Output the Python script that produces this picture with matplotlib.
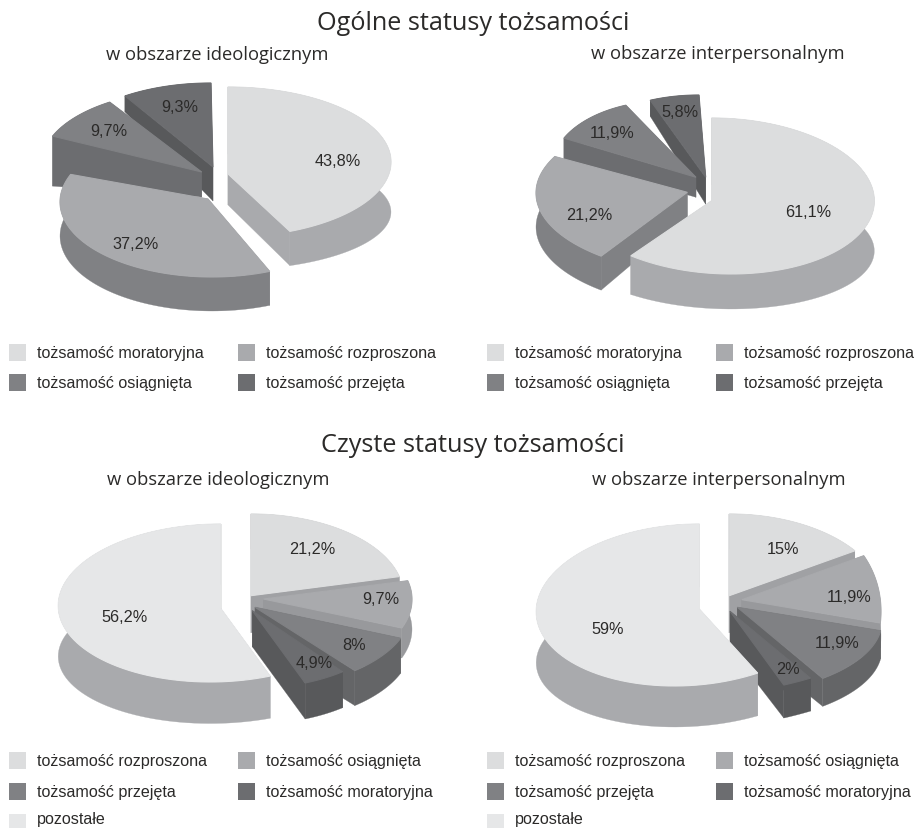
import numpy as np
import matplotlib
matplotlib.use('Agg')
import matplotlib.pyplot as plt
from matplotlib.patches import Rectangle

# data
ideo_ogolne = [43.8, 37.2, 9.7, 9.3]
inter_ogolne = [61.1, 21.2, 11.9, 5.8]
ideo_czyste = [21.2, 9.7, 8, 4.9, 56.2]
inter_czyste = [15, 11.9, 11.9, 2, 59]

labels_ideo_ogolne = ['43,8%', '37,2%', '9,7%', '9,3%']
labels_inter_ogolne = ['61,1%', '21,2%', '11,9%', '5,8%']
labels_ideo_czyste = ['21,2%', '9,7%', '8%', '4,9%', '56,2%']
labels_inter_czyste = ['15%', '11,9%', '11,9%', '2%', '59%']

legend_ogolne = ['tożsamość moratoryjna', 'tożsamość rozproszona', 'tożsamość osiągnięta', 'tożsamość przejęta']
legend_czyste = ['tożsamość rozproszona', 'tożsamość osiągnięta', 'tożsamość przejęta', 'tożsamość moratoryjna', 'pozostałe']

# shades
tops4 = ['#dcddde', '#a9aaad', '#808184', '#6c6d70']
sides4 = ['#a9aaad', '#808184', '#6c6d70', '#58595b']
tops5 = ['#dcddde', '#a9aaad', '#808184', '#6c6d70', '#e6e7e8']
sides5 = ['#a0a1a4', '#98999c', '#646567', '#58595b', '#a9aaad']

# wedge geometry in pixels: cx, cy, rx, ry, skew, tip x, tip y, depth, bottom ry, tip depth
geo_p1 = [(228, 163, 163, 75, 0, 228, 175, 50, 58, 31),
          (212, 203, 152, 75, 0, 208, 200, 34, 75, 30),
          (193, 164, 151, 73, 0, 201.7, 173, 50, 73, 25),
          (211, 162, 156, 78, 0, 213, 168, 16, 78, 34)]
geo_p2 = [(721.4, 197, 152.6, 78, -9.7, 711.7, 201.7, 51, 62, 35),
          (718, 194, 182, 82.4, 0, 687.3, 193.3, 34, 82.4, 25),
          (666.6, 168.8, 114.5, 67, 0, 696, 178.3, 21, 67, 20),
          (699, 176, 137, 80, 0, 705.7, 178.3, 16, 80, 27)]
geo_p3 = [(251, 597, 152.6, 82, 0, 251, 596.7, 35, 82, 37),
          (262, 600.4, 150, 79, 0, 263.3, 600, 30, 79, 30),
          (253.4, 610.3, 158, 80, 0, 255, 608.3, 35, 80, 36),
          (250.8, 618.3, 143, 71, 0, 252.3, 611.7, 36, 71, 36),
          (215.4, 604, 157.1, 79, 5.3, 220.7, 609.3, 51, 69.5, 38)]
geo_p4 = [(729.3, 604, 155, 89, 0, 729.3, 596.7, 35, 89, 37),
          (790, 612.4, 91, 95, 0, 741.7, 600.7, 25, 95, 25),
          (715.9, 622.7, 166, 74, 0, 737.3, 608.3, 28, 74, 30),
          (640.7, 607.9, 264, 93, 0, 730, 612.3, 33, 93, 37),
          (686.8, 606, 150.1, 81, 12.5, 699.3, 610, 52, 70, 38)]

# label centres
pos_p1 = [(338, 161), (136, 244), (109, 131), (180, 107)]
pos_p2 = [(808, 212), (589, 215), (612, 133), (680, 112)]
pos_p3 = [(312, 549), (381, 600), (354, 646), (314, 663), (125, 617)]
pos_p4 = [(783, 549), (849, 597), (837, 644), (788, 670), (608, 629)]

TITLE_FONT = 'Open Sans'
TEXT_FONT = 'Liberation Sans'
TEXT_COL = '#2b2a29'


def draw_wedge(ax, a0, a1, g, top, side):
    cx, cy, rx, ry, skew, tx, ty, dz, ryb, tdz = g
    t = np.radians(np.linspace(a0, a1, 80))
    x = cx + rx * np.sin(t) + skew * np.cos(t)
    y_top = cy - ry * np.cos(t)
    y_bot = cy + dz - ryb * np.cos(t)
    kw = dict(ec=side, lw=0.2)
    # radial faces, outer wall, then top surface
    ax.fill([tx, x[0], x[0], tx], [ty, y_top[0], y_bot[0], ty + tdz], fc=side, **kw)
    ax.fill([tx, x[-1], x[-1], tx], [ty, y_top[-1], y_bot[-1], ty + tdz], fc=side, **kw)
    ax.fill(np.r_[x, x[::-1]], np.r_[y_top, y_bot[::-1]], fc=side, **kw)
    ax.fill(np.r_[tx, x], np.r_[ty, y_top], fc=top, ec=top, lw=0.8)


def draw_pie(ax, values, geo, tops, sides, order, labels, pos):
    edges = np.r_[0, np.cumsum(values)] / np.sum(values) * 360
    for i in order:
        draw_wedge(ax, edges[i], edges[i + 1], geo[i], tops[i], sides[i])
    for s, (px, py) in zip(labels, pos):
        ax.text(px, py, s, ha='center', va='center', fontsize=11.7, family=TEXT_FONT, color=TEXT_COL)


def draw_legend(ax, names, colors, x0, x1, ys):
    for i, (name, col) in enumerate(zip(names, colors)):
        sx = x0 if i % 2 == 0 else x1
        sy = ys[i // 2]
        ax.add_patch(Rectangle((sx, sy - 8.5), 17, 17, fc=col, ec='none'))
        # last row sits on the bottom edge, keep its text inside
        ax.text(sx + 28, min(sy + 0.5, 819.5), name, ha='left', va='center', fontsize=11.6,
                family=TEXT_FONT, color=TEXT_COL)


fig = plt.figure(figsize=(9.17, 8.29), dpi=100)
ax = fig.add_axes([0, 0, 1, 1])
ax.set_xlim(0, 917)
ax.set_ylim(829, 0)
ax.axis('off')

draw_pie(ax, ideo_ogolne, geo_p1, tops4, sides4, [3, 2, 0, 1], labels_ideo_ogolne, pos_p1)
draw_pie(ax, inter_ogolne, geo_p2, tops4, sides4, [3, 2, 1, 0], labels_inter_ogolne, pos_p2)
draw_pie(ax, ideo_czyste, geo_p3, tops5, sides5, [0, 1, 2, 3, 4], labels_ideo_czyste, pos_p3)
draw_pie(ax, inter_czyste, geo_p4, tops5, sides5, [0, 1, 2, 3, 4], labels_inter_czyste, pos_p4)

for txt, tx, ty, fs in [('Ogólne statusy tożsamości', 473, 23, 18.2),
                        ('w obszarze ideologicznym', 217, 55, 13.2),
                        ('w obszarze interpersonalnym', 718, 54, 13.2),
                        ('Czyste statusy tożsamości', 473, 446, 18.2),
                        ('w obszarze ideologicznym', 218, 480, 13.2),
                        ('w obszarze interpersonalnym', 719, 480, 13.2)]:
    ax.text(tx, ty, txt, ha='center', va='center', fontsize=fs, family=TITLE_FONT, color=TEXT_COL)

draw_legend(ax, legend_ogolne, tops4, 9, 238, [353, 383])
draw_legend(ax, legend_ogolne, tops4, 487, 716, [353, 383])
draw_legend(ax, legend_czyste, tops5, 9, 238, [761, 792, 823])
draw_legend(ax, legend_czyste, tops5, 487, 716, [761, 792, 823])

fig.savefig('out.png', dpi=100)
